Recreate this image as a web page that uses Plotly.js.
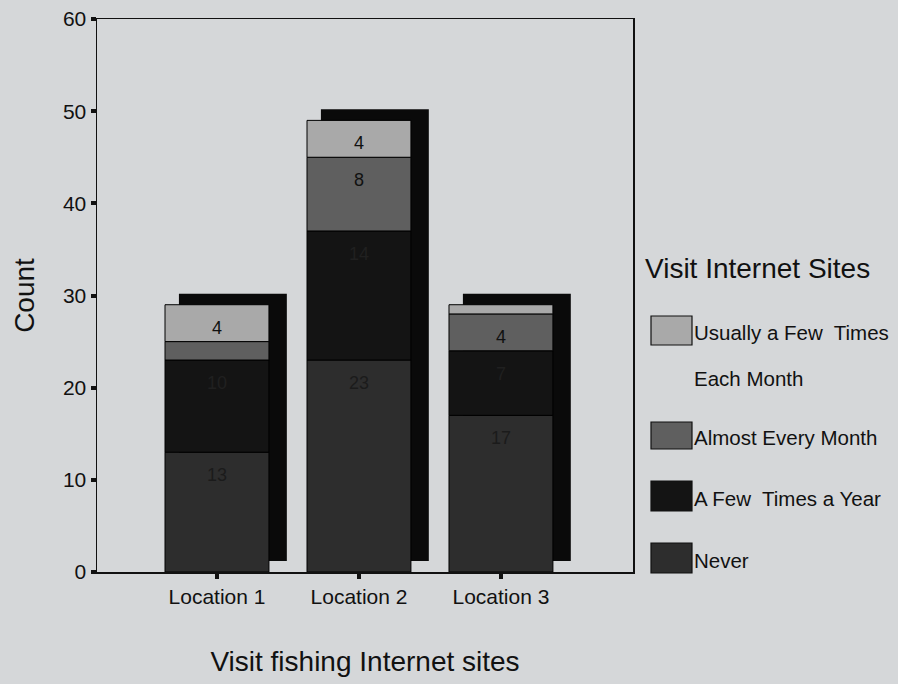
<!DOCTYPE html>
<html>
<head>
<meta charset="utf-8">
<script src="https://cdn.plot.ly/plotly-3.0.1.min.js"></script>
<style>
  html, body { margin: 0; padding: 0; background: #d5d7d9; }
  #chart { width: 898px; height: 684px; }
</style>
</head>
<body>
<div id="chart"></div>
<script>
// Counts per location for each answer to "Visit Internet Sites"
const categories = ['Location 1', 'Location 2', 'Location 3'];
const never = [13, 23, 17];
const fewTimesAYear = [10, 14, 7];
const almostEveryMonth = [2, 8, 4];
const usuallyFewTimesMonth = [4, 4, 1];
const seriesNames = ['Never', 'A Few  Times a Year', 'Almost Every Month', 'Usually a Few  Times<br>Each Month'];
const yTickValues = [0, 10, 20, 30, 40, 50, 60];

const FONT = 'Liberation Sans, Arial, sans-serif';
const fills = ['#2d2d2d', '#141414', '#5f5f5f', '#a9a9a9'];
const labelColors = ['#1b1b1b', '#202020', '#111111', '#111111'];
const shadowColor = '#0a0a0a';
const bg = '#d5d7d9';

// plot area in pixels, used to place the hand-built legend
const L = 97, R = 633, T = 19, B = 572;
const px = v => (v - L) / (R - L);
const py = v => (B - v) / (B - T);

const seriesValues = [never, fewTimesAYear, almostEveryMonth, usuallyFewTimesMonth];

const traces = [];
const annotations = [];
let cum = categories.map(() => 0);

seriesValues.forEach((vals, si) => {
  traces.push({
    type: 'bar',
    name: seriesNames[si],
    x: categories,
    y: vals,
    base: cum.slice(),
    width: 0.732,
    offset: -0.366,
    marker: { color: fills[si], line: { color: '#000', width: 1 } },
    showlegend: false,
    hoverinfo: 'skip'
  });
  vals.forEach((v, ci) => {
    if (v > 2) {
      annotations.push({
        x: categories[ci], y: cum[ci] + v, xref: 'x', yref: 'y',
        yanchor: 'top', yshift: -11, showarrow: false,
        text: String(v),
        font: { family: FONT, size: 18, color: labelColors[si] }
      });
    }
  });
  cum = cum.map((c, i) => c + vals[i]);
});

// raised dark block behind each stacked column
const totals = cum;
traces.unshift({
  type: 'bar',
  x: categories,
  y: totals,
  base: totals.map(() => 1.2),
  width: 0.76,
  offset: -0.268,
  marker: { color: shadowColor, line: { width: 0 } },
  showlegend: false,
  hoverinfo: 'skip'
});

// legend: title, swatches and wrapped item labels
const shapes = [];
annotations.push({
  xref: 'paper', yref: 'paper', x: px(643), y: py(268),
  xanchor: 'left', yanchor: 'middle', showarrow: false,
  text: 'Visit Internet Sites',
  font: { family: FONT, size: 28, color: '#111' }
});
const swatchTop = [543, 481, 422, 316];
const swatchH = [30, 30, 27, 29];
const lineGap = 46;
seriesNames.forEach((name, si) => {
  shapes.push({
    type: 'rect', xref: 'paper', yref: 'paper',
    x0: px(651), x1: px(692), y0: py(swatchTop[si]), y1: py(swatchTop[si] + swatchH[si]),
    fillcolor: fills[si], line: { color: '#111', width: 1.2 }
  });
  name.split('<br>').forEach((line, li) => {
    annotations.push({
      xref: 'paper', yref: 'paper', x: px(692), y: py(swatchTop[si] + swatchH[si] / 2 + 2 + li * lineGap),
      xanchor: 'left', yanchor: 'middle', showarrow: false,
      text: line,
      font: { family: FONT, size: 20.5, color: '#111' }
    });
  });
});

const layout = {
  width: 898, height: 684,
  margin: { l: L, r: 898 - R, t: T, b: 684 - B },
  paper_bgcolor: bg, plot_bgcolor: bg,
  barmode: 'overlay',
  font: { family: FONT, color: '#111' },
  xaxis: {
    type: 'category',
    range: [-0.845, 2.93],
    showline: true, linecolor: '#111', linewidth: 1.5, mirror: true,
    ticks: 'outside', ticklen: 5, tickwidth: 4, tickcolor: '#111',
    showgrid: false, zeroline: false,
    tickfont: { family: FONT, size: 21, color: '#111' },
    title: { text: 'Visit fishing Internet sites', standoff: 44,
             font: { family: FONT, size: 28, color: '#111' } },
    automargin: false
  },
  yaxis: {
    range: [0, 60],
    tickmode: 'array', tickvals: yTickValues, ticktext: yTickValues.map(String),
    showline: true, linecolor: '#111', linewidth: 1.5, mirror: true,
    ticks: 'outside', ticklen: 5, tickwidth: 4, tickcolor: '#111',
    showgrid: false, zeroline: false,
    tickfont: { family: FONT, size: 21, color: '#111' },
    title: { text: 'Count', standoff: 20,
             font: { family: FONT, size: 28, color: '#111' } },
    automargin: false
  },
  shapes: shapes,
  annotations: annotations
};

Plotly.newPlot('chart', traces, layout, { staticPlot: true, displayModeBar: false });
</script>
</body>
</html>
